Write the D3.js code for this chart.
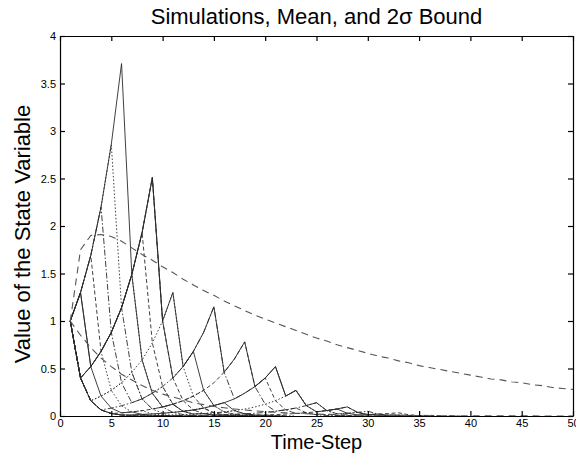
<!DOCTYPE html>
<html>
<head>
<meta charset="utf-8">
<script src="https://d3js.org/d3.v7.min.js"></script>
<style>
  body { margin: 0; background: #fff; }
  text { font-family: "Liberation Sans", Arial, Helvetica, sans-serif; }
</style>
</head>
<body>
<script>
// ----------------------------------------
//  Data
// ----------------------------------------

var xTicks = [0, 5, 10, 15, 20, 25, 30, 35, 40, 45, 50];
var yTicks = [0, 0.5, 1, 1.5, 2, 2.5, 3, 3.5, 4];
var yTickLabels = ["0", "0.5", "1", "1.5", "2", "2.5", "3", "3.5", "4"];

// simulations, one value per time-step starting at step 1
var sim1 = [1, 1.3, 1.69, 2.2, 2.86, 3.71, 1.49, 0.59, 0.24, 0.095, 0.124, 0.049, 0.02, 0.026, 0.01, 0.004, 0.002, 0.001, 0];
var sim2 = [1, 1.3, 1.69, 2.2, 2.86, 1.14, 1.49, 0.59, 0.24, 0.31, 0.124, 0.049, 0.02, 0.026, 0.033, 0.013, 0.005, 0.002, 0];
var sim3 = [1, 1.3, 1.69, 2.2, 0.88, 0.35, 0.14, 0.18, 0.24, 0.095, 0.124, 0.049, 0.064, 0.026, 0.01, 0.013, 0.005, 0.002, 0.001, 0];
var sim4 = [1, 1.3, 1.69, 0.68, 0.88, 1.14, 1.49, 1.93, 0.77, 0.31, 0.124, 0.161, 0.209, 0.084, 0.033, 0.043, 0.017, 0.023, 0.009, 0.004, 0.001, 0];
var sim5 = [1, 0.4, 0.52, 0.68, 0.88, 1.14, 1.49, 1.93, 2.51, 1.0, 1.3, 0.52, 0.68, 0.88, 1.15, 0.46, 0.6, 0.78, 0.31, 0.4, 0.52, 0.21, 0.27, 0.11, 0.14, 0.057, 0.074, 0.096, 0.038, 0.015, 0.02, 0.008, 0.01, 0.004, 0.002, 0];
var sim6 = [1, 0.4, 0.16, 0.21, 0.27, 0.35, 0.46, 0.59, 0.77, 1.0, 1.3, 0.52, 0.21, 0.27, 0.11, 0.043, 0.056, 0.023, 0.009, 0.012, 0.005, 0.002, 0];
var sim7 = [1, 0.4, 0.16, 0.064, 0.083, 0.108, 0.14, 0.18, 0.24, 0.31, 0.4, 0.52, 0.68, 0.88, 1.15, 0.46, 0.18, 0.24, 0.31, 0.124, 0.05, 0.065, 0.026, 0.034, 0.013, 0.005, 0.007, 0.003, 0.001, 0];
var sim8 = [1, 0.4, 0.16, 0.064, 0.026, 0.033, 0.043, 0.056, 0.073, 0.095, 0.124, 0.161, 0.21, 0.27, 0.35, 0.46, 0.6, 0.78, 0.31, 0.4, 0.161, 0.065, 0.084, 0.034, 0.013, 0.017, 0.007, 0.003, 0.001, 0];
var sim9 = [1, 0.4, 0.16, 0.064, 0.026, 0.01, 0.013, 0.017, 0.022, 0.029, 0.038, 0.049, 0.064, 0.083, 0.11, 0.14, 0.18, 0.24, 0.31, 0.4, 0.52, 0.21, 0.27, 0.11, 0.044, 0.057, 0.074, 0.029, 0.012, 0.015, 0.006, 0.002, 0.001, 0];
var sim10 = [1, 0.4, 0.16, 0.064, 0.026, 0.01, 0.004, 0.005, 0.007, 0.009, 0.012, 0.015, 0.02, 0.026, 0.033, 0.043, 0.057, 0.073, 0.095, 0.124, 0.161, 0.21, 0.27, 0.11, 0.044, 0.057, 0.023, 0.029, 0.038, 0.015, 0.006, 0.008, 0.003, 0.001, 0];
var sim11 = [1, 0.4, 0.16, 0.064, 0.026, 0.01, 0.004, 0.002, 0.002, 0.003, 0.004, 0.005, 0.006, 0.008, 0.01, 0.013, 0.017, 0.023, 0.029, 0.038, 0.05, 0.065, 0.084, 0.11, 0.14, 0.057, 0.023, 0.029, 0.038, 0.05, 0.02, 0.008, 0.01, 0.004, 0.002, 0];
var sim12 = [1, 0.4, 0.16, 0.064, 0.026, 0.01, 0.004, 0.002, 0.001, 0.001, 0.001, 0.001, 0.002, 0.002, 0.003, 0.004, 0.005, 0.007, 0.009, 0.012, 0.015, 0.02, 0.026, 0.034, 0.044, 0.057, 0.074, 0.096, 0.038, 0.015, 0.02, 0.026, 0.034, 0.013, 0.005, 0.007, 0.003, 0.001, 0];
var sim13 = [1, 1.3, 0.52, 0.21, 0.083, 0.033, 0.043, 0.017, 0.007, 0.003, 0.001, 0];
var sim14 = [1, 0.4, 0.52, 0.68, 0.27, 0.108, 0.043, 0.056, 0.022, 0.009, 0.004, 0.001, 0];
var sim15 = [1, 0.4, 0.52, 0.68, 0.88, 1.14, 0.46, 0.18, 0.073, 0.095, 0.038, 0.015, 0.006, 0.002, 0];
var sim16 = [1, 0.4, 0.52, 0.68, 0.88, 1.14, 1.49, 1.93, 2.51, 1.0, 0.4, 0.161, 0.064, 0.084, 0.033, 0.013, 0.005, 0.002, 0];
var sim17 = [1, 1.3, 0.52, 0.68, 0.88, 1.14, 1.49, 1.93, 2.51, 1.0, 0.4, 0.52, 0.68, 0.27, 0.11, 0.14, 0.056, 0.023, 0.009, 0.004, 0.001, 0];
var sim18 = [1, 0.4, 0.16, 0.21, 0.27, 0.35, 0.46, 0.18, 0.073, 0.029, 0.038, 0.049, 0.064, 0.083, 0.11, 0.043, 0.017, 0.007, 0.003, 0.001, 0];

var meanValues = [1, 0.85, 0.72, 0.61, 0.52, 0.44, 0.38, 0.32, 0.27, 0.23, 0.2, 0.17, 0.14, 0.12, 0.1, 0.087, 0.074, 0.063, 0.054, 0.046,
  0.039, 0.033, 0.028, 0.024, 0.02, 0.017, 0.015, 0.012, 0.011, 0.009, 0.008, 0.007, 0.006, 0.005, 0.004, 0.003, 0.003, 0.002, 0.002, 0.002,
  0.001, 0.001, 0.001, 0.001, 0.001, 0.001, 0, 0, 0, 0];
var boundValues = [1, 1.75, 1.9, 1.91, 1.89, 1.84, 1.77, 1.7, 1.64, 1.57, 1.51, 1.44, 1.38, 1.32, 1.27, 1.21, 1.16, 1.11, 1.06, 1.02,
  0.98, 0.94, 0.9, 0.86, 0.82, 0.79, 0.75, 0.72, 0.69, 0.66, 0.63, 0.61, 0.58, 0.56, 0.53, 0.51, 0.49, 0.47, 0.45, 0.43,
  0.41, 0.39, 0.38, 0.36, 0.35, 0.33, 0.32, 0.3, 0.29, 0.28];

var sims = [sim1, sim2, sim3, sim4, sim5, sim6, sim7, sim8, sim9, sim10, sim11, sim12, sim13, sim14, sim15, sim16, sim17, sim18];

// ----------------------------------------
// Sizing and Placing the Chart
// ----------------------------------------

var margin = {top: 36, right: 3, bottom: 37, left: 60};
var width = 576 - margin.left - margin.right;
var height = 453 - margin.top - margin.bottom;

var x = d3.scaleLinear().domain([0, 50]).range([0, width]);
var y = d3.scaleLinear().domain([0, 4]).range([height, 0]);

var svg = d3.select("body").append("svg")
    .attr("width", 576)
    .attr("height", 453);

var g = svg.append("g")
    .attr("transform", "translate(" + margin.left + "," + margin.top + ")");

g.append("clipPath").attr("id", "plotclip")
  .append("rect").attr("width", width).attr("height", height);

// ----------------------------------------
// Lines
// ----------------------------------------

var line = d3.line()
    .x(function(d, i) { return x(i + 1); })
    .y(function(d) { return y(d); });

var dashes = ["", "1.5,2", "6,2,1.5,2", "4,2.5"];

var plot = g.append("g").attr("clip-path", "url(#plotclip)");

plot.selectAll(".sim")
    .data(sims)
    .enter()
    .append("path")
    .attr("class", "sim")
    .attr("d", line)
    .attr("fill", "none")
    .attr("stroke", "#2a2a2a")
    .attr("stroke-width", 0.9)
    .attr("stroke-dasharray", function(d, i) { return dashes[i % dashes.length]; });

plot.selectAll(".stat")
    .data([meanValues, boundValues])
    .enter()
    .append("path")
    .attr("class", "stat")
    .attr("d", line)
    .attr("fill", "none")
    .attr("stroke", "#555")
    .attr("stroke-width", 1.1)
    .attr("stroke-dasharray", "7,5");

// ----------------------------------------
// Axes (MATLAB box, ticks inside)
// ----------------------------------------

g.append("g")
    .attr("transform", "translate(0," + height + ")")
    .call(d3.axisBottom(x).tickValues(xTicks).tickSizeInner(-5).tickSizeOuter(0).tickPadding(3));

g.append("g")
    .call(d3.axisTop(x).tickValues(xTicks).tickSizeInner(-5).tickSizeOuter(0).tickFormat(""));

g.append("g")
    .call(d3.axisLeft(y).tickValues(yTicks).tickSizeInner(-5).tickSizeOuter(0).tickPadding(4)
      .tickFormat(function(d, i) { return yTickLabels[i]; }));

g.append("g")
    .attr("transform", "translate(" + width + ",0)")
    .call(d3.axisRight(y).tickValues(yTicks).tickSizeInner(-5).tickSizeOuter(0).tickFormat(""));

g.selectAll(".tick text")
    .attr("font-size", 11)
    .attr("font-family", "'Liberation Sans', Arial, sans-serif")
    .attr("fill", "#000");

g.selectAll(".domain, .tick line").attr("stroke", "#000").attr("stroke-width", 1.2);

// ----------------------------------------
// Titles
// ----------------------------------------

svg.append("text")
    .attr("x", margin.left + width / 2)
    .attr("y", 24)
    .attr("text-anchor", "middle")
    .attr("font-size", 22)
    .text("Simulations, Mean, and 2σ Bound");

svg.append("text")
    .attr("x", margin.left + width / 2)
    .attr("y", 449)
    .attr("text-anchor", "middle")
    .attr("font-size", 20)
    .text("Time-Step");

svg.append("text")
    .attr("transform", "translate(30,234) rotate(-90)")
    .attr("text-anchor", "middle")
    .attr("font-size", 22)
    .text("Value of the State Variable");
</script>
</body>
</html>
